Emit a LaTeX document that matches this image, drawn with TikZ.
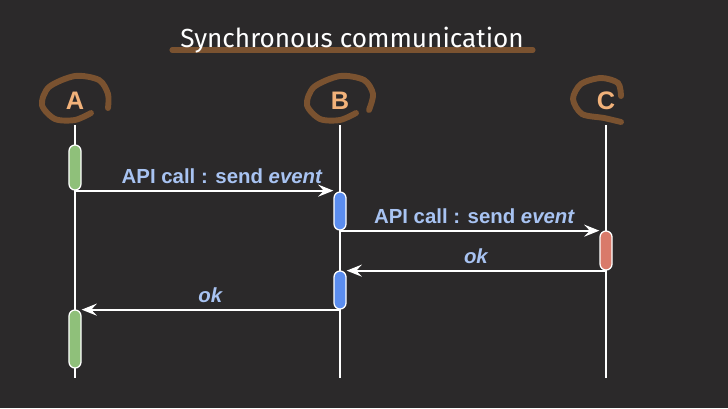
\documentclass[tikz,border=0pt]{standalone}
\usepackage{fontspec}
\setmainfont{Liberation Sans}
\newfontfamily\titlefont{Fira Sans}
\usetikzlibrary{positioning, arrows.meta}
\definecolor{bg}{HTML}{2B292A}
\definecolor{scribble}{HTML}{7A5230}
\definecolor{actorfg}{HTML}{F2B27A}
\definecolor{msgfg}{HTML}{A8C3F2}
\definecolor{actgreen}{HTML}{8FC07A}
\definecolor{actblue}{HTML}{5B8DEF}
\definecolor{actred}{HTML}{D97A6A}
\tikzset{
	actor/.style={font=\fontsize{18}{21}\selectfont\bfseries, text=actorfg},
	lifeline/.style={draw=white, line width=1.3pt},
	msg/.style={draw=white, line width=1.3pt, -{Stealth[length=3.8mm, width=3mm, inset=1.4mm]}},
	msglabel/.style={font=\fontsize{14.5}{17}\selectfont\bfseries, text=msgfg, above=1pt}
}

\begin{document}
\begin{tikzpicture}[
		x=0.025cm, y=-0.025cm,
		act/.style={
			draw=white,
			line width=0.9pt,
			rounded corners=0.15cm,
			minimum width=0.3cm,
			inner sep=0pt
		},
		mark line/.style={draw=scribble, line width=4.2pt, line cap=round, line join=round},
		title/.style={font=\titlefont\fontsize{18.6}{22}\selectfont, text=white}
		]
		
		\fill[bg] (0,0) rectangle (728,408);
		\useasboundingbox (0,0) rectangle (728,408);
		
		% title
		\draw[mark line, line width=3.6pt] (172,50) -- (533,50);
		\node[title] (title) at (352,40) {Synchronous communication};
		
		% actors
		\draw[mark line, shift={(75,100)}] plot[smooth] coordinates {(16,13) (0,20) (-20,19) (-33,5) (-26,-13) (0,-24) (24,-20) (33,-6) (33,8)};
		\draw[mark line, shift={(340,100)}] plot[smooth] coordinates {(16,13) (0,20) (-20,19) (-33,5) (-26,-13) (0,-24) (24,-20) (33,-6) (29,10)};
		\draw[mark line, shift={(606,101)}] plot[smooth] coordinates {(15,-5) (12,-18) (-5,-23) (-25,-17) (-33,-2) (-24,13) (-2,17) (15,21)};
		\node[actor] (A) at (75,101) {A};
		\node[actor] (B) at (340,101) {B};
		\node[actor] (C) at (606,101) {C};
		
		\coordinate (Aend) at (75,378);
		\coordinate (Bend) at (340,378);
		\coordinate (Cend) at (606,378);
		\draw[lifeline] (75,125) -- (Aend);
		\draw[lifeline] (340,125) -- (Bend);
		\draw[lifeline] (606,125) -- (Cend);
		
		% activations
		\node[act, fill=actgreen, minimum height=1.125cm] (actA1) at (75,167.5) {};
		\node[act, fill=actblue, minimum height=0.95cm] (actB1) at (340,211) {};
		\node[act, fill=actred, minimum height=0.975cm] (actC) at (606,250.5) {};
		\node[act, fill=actblue, minimum height=0.95cm] (actB2) at (340,290) {};
		\node[act, fill=actgreen, minimum height=1.45cm] (actA2) at (75,339) {};
		
		% messages
		\draw[msg] (actA1.south) -- (actA1.south -| actB1.west)
		node[midway, msglabel, xshift=0.45cm] {API call : send \textit{event}};
		\draw[msg] (actB1.south) -- (actB1.south -| actC.west)
		node[midway, msglabel, xshift=0.12cm] {API call : send \textit{event}};
		\draw[msg] (actC.south) -- (actC.south -| actB2.east)
		node[midway, msglabel] {\textit{ok}};
		\draw[msg] (actB2.south) -- (actB2.south -| actA2.east)
		node[midway, msglabel] {\textit{ok}};
		
	\end{tikzpicture}
\end{document}
